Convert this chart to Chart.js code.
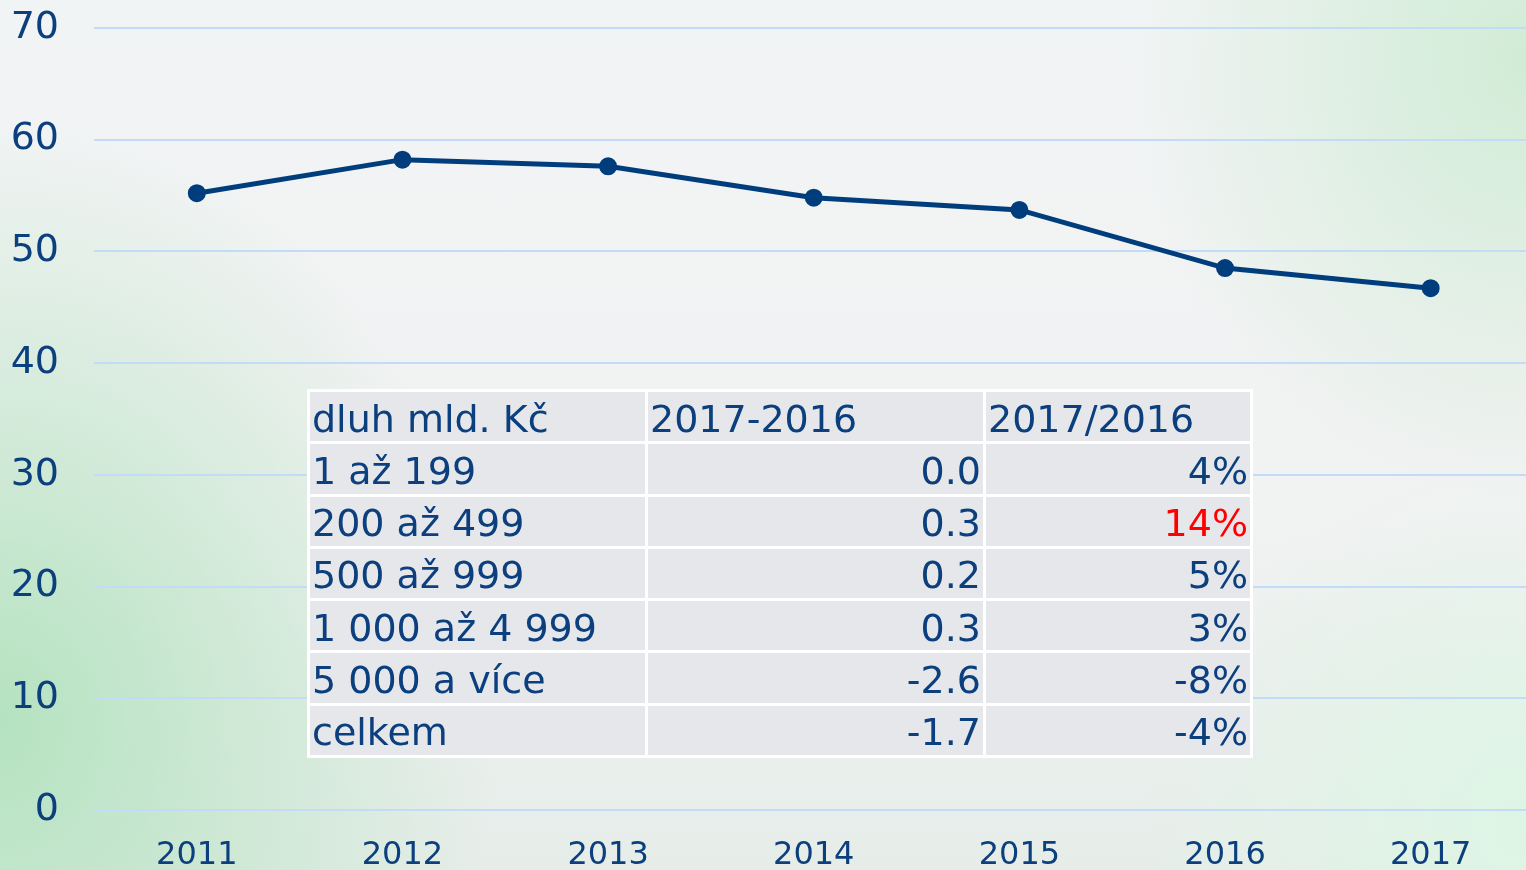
<!DOCTYPE html>
<html>
<head>
<meta charset="utf-8">
<script src="https://cdn.jsdelivr.net/npm/chart.js@4.4.0/dist/chart.umd.min.js"></script>
<style>
    html, body {
        margin: 0;
        padding: 0;
        width: 1526px;
        height: 870px;
        overflow: hidden;
    }
    body {
        position: relative;
        background:
            radial-gradient(ellipse 500px 600px at 0px 720px, rgba(178, 226, 190, 0.95), rgba(178, 226, 190, 0) 100%),
            radial-gradient(ellipse 400px 440px at 1526px 60px, rgba(205, 235, 210, 0.9), rgba(205, 235, 210, 0) 100%),
            radial-gradient(ellipse 380px 360px at 1526px 820px, rgba(220, 246, 228, 0.9), rgba(220, 246, 228, 0) 100%),
            linear-gradient(180deg, #f1f4f5 0%, #f1f2f2 60%, #e6ede9 100%);
        font-family: "DejaVu Sans", Verdana, sans-serif;
    }
    #wrap {
        position: absolute;
        left: 0;
        top: -30px;
        width: 1545px;
        height: 930px;
    }
    #tab {
        position: absolute;
        left: 307px;
        top: 389px;
        width: 943px;
        height: 369px;
        border-collapse: collapse;
        border: 3px solid #ffffff;
        color: #0b3f7d;
        font-size: 38px;
        table-layout: fixed;
    }
    #tab td {
        background: #e6e7eb;
        border: 3px solid #ffffff;
        padding: 4px 2px 0 2px;
        white-space: nowrap;
        line-height: 1;
    }
    #tab td.num {
        text-align: right;
    }
</style>
</head>
<body>
<div id="wrap"><canvas id="graf"></canvas></div>
<table id="tab"></table>
<script>
//Données du graphique
const annees = ["2011", "2012", "2013", "2014", "2015", "2016", "2017"];
const dluh = [55.2, 58.2, 57.6, 54.8, 53.7, 48.5, 46.7];

//Données du tableau
const hlavicka = ["dluh mld. Kč", "2017-2016", "2017/2016"];
const skupiny = ["1 až 199", "200 až 499", "500 až 999", "1 000 až 4 999", "5 000 a více", "celkem"];
const rozdil = ["0.0", "0.3", "0.2", "0.3", "-2.6", "-1.7"];
const podil = ["4%", "14%", "5%", "3%", "-8%", "-4%"];
const zvyraznit = [false, true, false, false, false, false];

const modra = "#003d7c";

//Construire le tableau
let tab = document.getElementById("tab");
let html = '<colgroup><col style="width:338px"><col style="width:338px"><col style="width:267px"></colgroup>';
html += "<tr>";
for (let i = 0; i < hlavicka.length; i++) {
    html += "<td>" + hlavicka[i] + "</td>";
}
html += "</tr>";
for (let i = 0; i < skupiny.length; i++) {
    html += "<tr><td>" + skupiny[i] + "</td>";
    html += '<td class="num">' + rozdil[i] + "</td>";
    html += '<td class="num"' + (zvyraznit[i] ? ' style="color:#ff0000"' : "") + ">" + podil[i] + "</td></tr>";
}
tab.innerHTML = html;

//Créer le graphe
new Chart(document.getElementById("graf").getContext("2d"), {
    type: "line",
    data: {
        labels: annees,
        datasets: [{
            data: dluh,
            borderColor: modra,
            backgroundColor: modra,
            borderWidth: 5,
            pointRadius: 6.5,
            pointBackgroundColor: modra,
            pointBorderColor: modra,
            tension: 0
        }]
    },
    options: {
        responsive: true,
        maintainAspectRatio: false,
        animation: false,
        layout: {padding: 0},
        plugins: {
            legend: {display: false},
            tooltip: {enabled: false}
        },
        scales: {
            x: {
                offset: true,
                grid: {display: false, drawTicks: false},
                border: {display: false},
                ticks: {
                    color: "#0b3f7d",
                    font: {family: "DejaVu Sans", size: 32},
                    padding: 26,
                    maxRotation: 0
                },
                afterFit: function (scale) {
                    scale.height = 90;
                }
            },
            y: {
                min: 0,
                max: 70,
                ticks: {
                    stepSize: 10,
                    color: "#0b3f7d",
                    font: {family: "DejaVu Sans", size: 38},
                    padding: 35
                },
                grid: {color: "#c2dbf6", lineWidth: 2, drawTicks: false},
                border: {display: false},
                afterFit: function (scale) {
                    scale.width = 94;
                }
            }
        }
    }
});
</script>
</body>
</html>
